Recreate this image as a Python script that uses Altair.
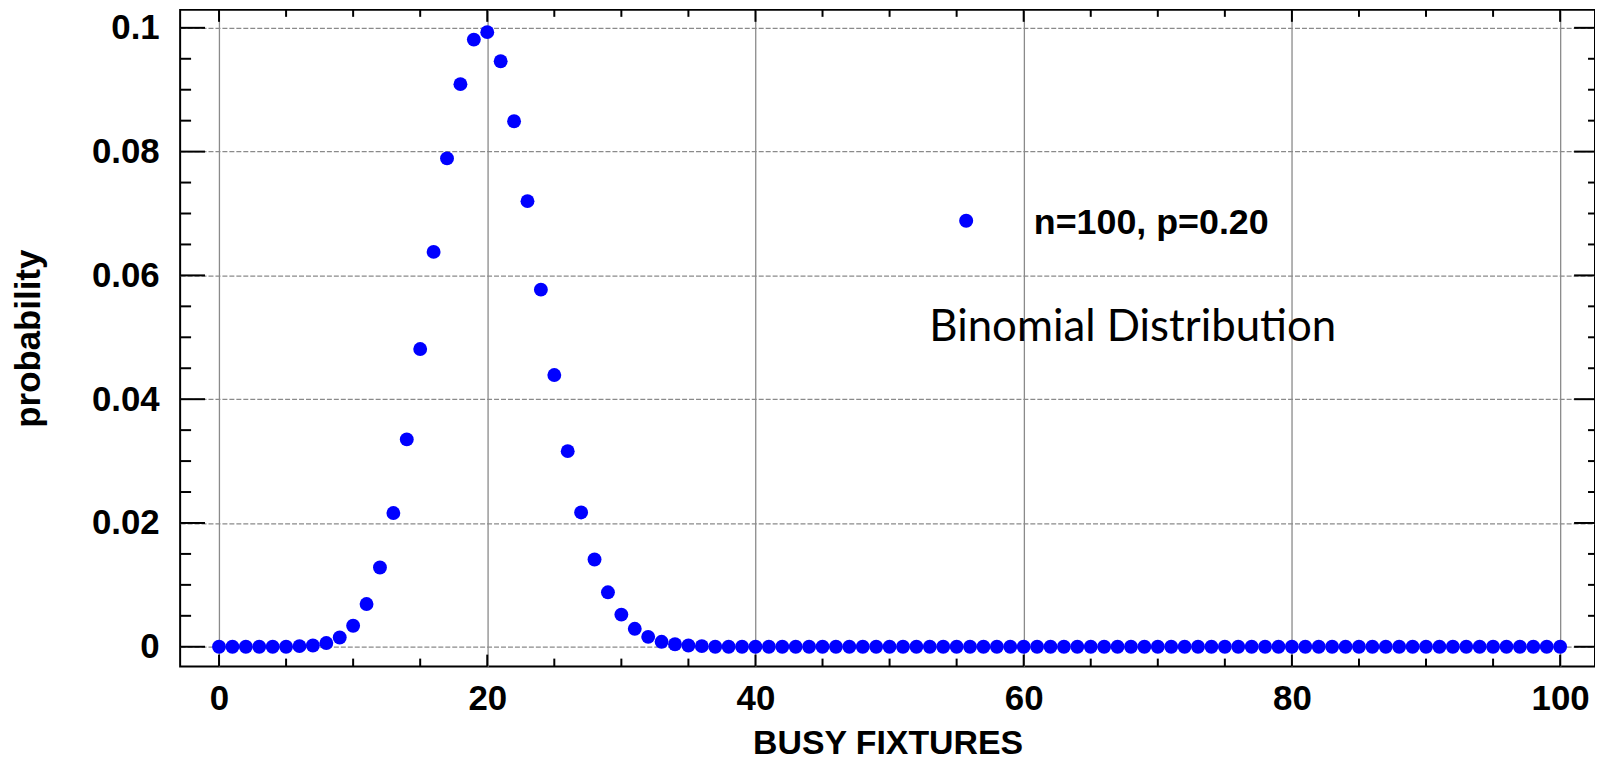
import altair as alt
import pandas as pd

# ---- data ----
busy_fixtures = list(range(0, 101))
probability = (
    [0.0, 0.0, 0.0, 0.0, 0.0, 0.0, 0.0001, 0.0002, 0.0006, 0.0015,   # 0-9
     0.0034, 0.0069, 0.0128, 0.0216, 0.0335, 0.0481, 0.0638, 0.0789, 0.0909, 0.0981,  # 10-19
     0.0993, 0.0946, 0.0849, 0.0720, 0.0577, 0.0439, 0.0316, 0.0217, 0.0141, 0.0088,  # 20-29
     0.0052, 0.0029, 0.0016, 0.0008, 0.0004, 0.0002, 0.0001]  # 30-36
    + [0.0] * 64  # 37-100
)

x_major = [0, 20, 40, 60, 80, 100]
x_minor = [v for v in range(0, 101, 5) if v % 20 != 0]
y_major = [0, 0.02, 0.04, 0.06, 0.08, 0.1]
y_minor = [round(v * 0.005, 3) for v in range(0, 21) if v % 4 != 0]

legend_label = ["n=100, p=0.20"]
annotation = ["Binomial Distribution"]

W, H = 1422, 660
X_DOMAIN = [-2.9, 102.6]
Y_DOMAIN = [-0.0032, 0.1029]
FONT = "Liberation Sans"

df = pd.DataFrame({"k": busy_fixtures, "p": probability})

xs = alt.Scale(domain=X_DOMAIN, nice=False, zero=False)
ys = alt.Scale(domain=Y_DOMAIN, nice=False, zero=False)

points = alt.Chart(df).mark_circle(size=195, color="#0000FF", opacity=1).encode(
    x=alt.X("k:Q", scale=xs, title="BUSY FIXTURES",
            axis=alt.Axis(values=x_major, format="d", ticks=False, tickSize=0, domain=False,
                          grid=True, gridColor="#8a8a8a", gridWidth=1.3,
                          labelFont=FONT, labelFontSize=35, labelFontWeight="bold",
                          labelColor="black", labelPadding=15,
                          titleFont=FONT, titleFontSize=34, titleFontWeight="bold",
                          titleColor="black", titleBaseline="alphabetic", titleY=87)),
    y=alt.Y("p:Q", scale=ys, title="probability",
            axis=alt.Axis(values=y_major, format="~g", ticks=False, tickSize=0, domain=False,
                          grid=True, gridColor="#8a8a8a", gridWidth=1.3, gridDash=[5, 2],
                          labelFont=FONT, labelFontSize=35, labelFontWeight="bold",
                          labelColor="black", labelPadding=21,
                          titleFont=FONT, titleFontSize=35, titleFontWeight="bold",
                          titleColor="black", titleBaseline="alphabetic", titleX=-141,
                          titleY=H / 2, titleAlign="center")),
)


def xticks(values, y0, y1):
    d = pd.DataFrame({"k": values})
    return alt.Chart(d).mark_rule(color="black", strokeWidth=2).encode(
        x=alt.X("k:Q", scale=xs, title="BUSY FIXTURES"),
        y=alt.value(y0), y2=alt.value(y1))


def yticks(values, x0, x1):
    d = pd.DataFrame({"p": values})
    return alt.Chart(d).mark_rule(color="black", strokeWidth=2).encode(
        y=alt.Y("p:Q", scale=ys, title="probability"),
        x=alt.value(x0), x2=alt.value(x1))


ticks = [
    xticks(x_major, H, H - 12), xticks(x_minor, H, H - 8),
    xticks(x_major, 0, 12), xticks(x_minor, 0, 7),
    yticks(y_major, 0, 25), yticks(y_minor, 0, 11),
    yticks(y_major, W, W - 21), yticks(y_minor, W, W - 7),
]

legend_pt = alt.Chart(pd.DataFrame({"t": legend_label})).mark_circle(
    size=200, color="#0000FF", opacity=1).encode(x=alt.value(790), y=alt.value(212))
legend_txt = alt.Chart(pd.DataFrame({"t": legend_label})).mark_text(
    align="left", baseline="alphabetic", font=FONT, fontSize=36, fontWeight="bold",
    color="black").encode(text="t:N", x=alt.value(858), y=alt.value(225))
anno_txt = alt.Chart(pd.DataFrame({"t": annotation})).mark_text(
    align="left", baseline="alphabetic", font="Lato", fontSize=44, fontWeight="normal",
    color="black").encode(text="t:N", x=alt.value(753), y=alt.value(333))

chart = alt.layer(points, *ticks, legend_pt, legend_txt, anno_txt).properties(
    width=W, height=H,
    padding={"left": 173, "top": 0, "right": 0, "bottom": 88},
    autosize=alt.AutoSizeParams(type="none"),
    background="white",
).configure_view(stroke="black", strokeWidth=2)

chart.save("out.html", embed_options={"renderer": "svg", "actions": False})
